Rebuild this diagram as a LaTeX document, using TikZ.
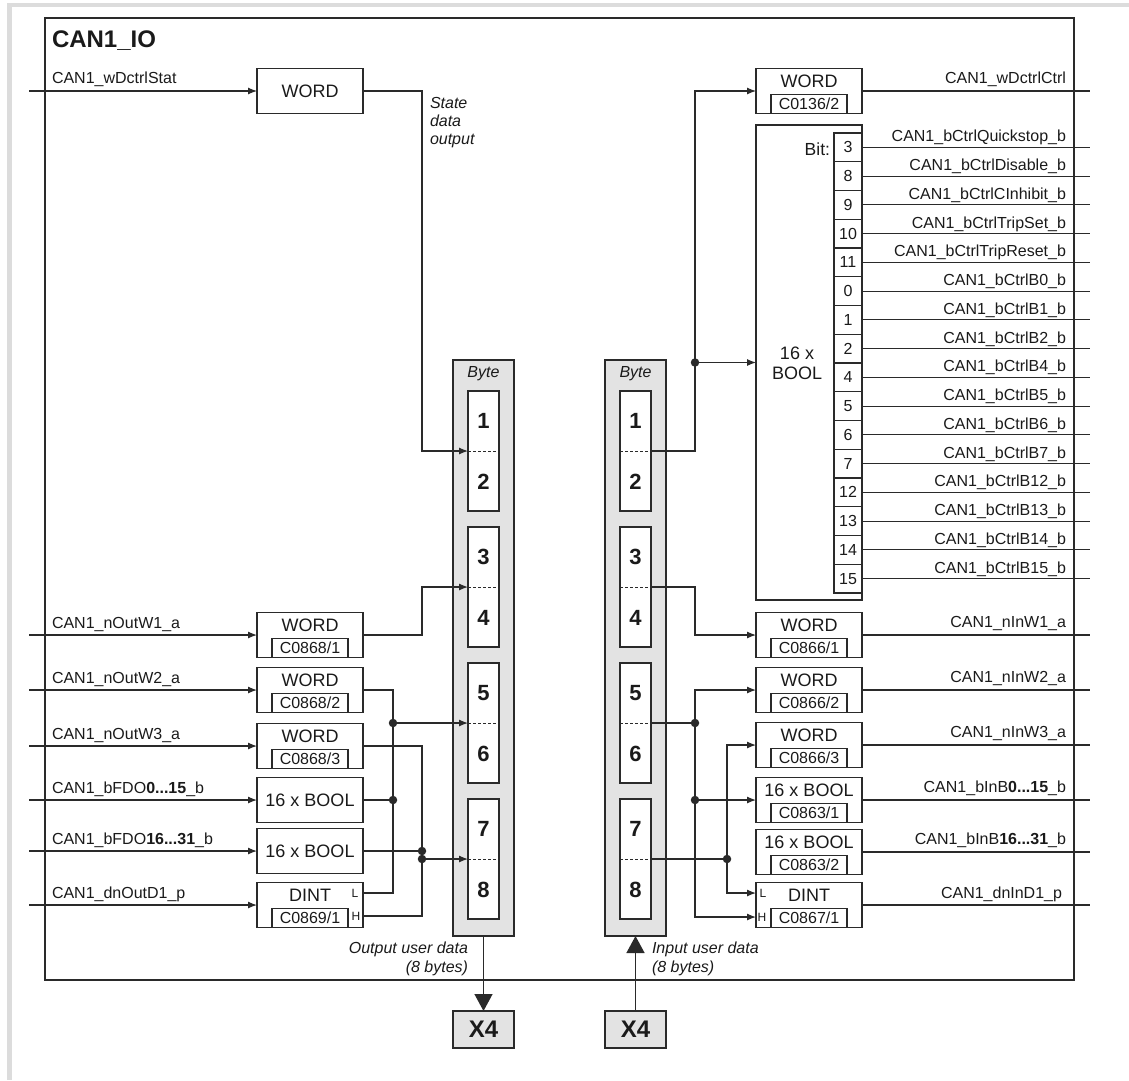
\documentclass[tikz,border=0pt]{standalone}
\usepackage{fontspec}
\setmainfont{Liberation Sans}
\usetikzlibrary{arrows.meta}
\definecolor{linec}{HTML}{2A2A2A}
\definecolor{txtc}{HTML}{1A1A1A}
\definecolor{grayfill}{HTML}{E3E3E3}
\definecolor{bandc}{HTML}{DCDCDC}
\newcommand{\myfs}[1]{\fontsize{#1}{#1}\selectfont}
\begin{document}
\begin{tikzpicture}[x=1pt,y=-1pt,
 every node/.style={inner sep=0pt,outer sep=0pt,text=txtc},
 blk/.style={draw=linec,line width=1.25pt,fill=white,minimum width=106pt,minimum height=45pt},
 codebox/.style={draw=linec,line width=1.1pt,minimum width=76pt,minimum height=19pt,anchor=south,font=\myfs{16}},
 wlbl/.style={font=\myfs{18}},
 lbl/.style={font=\myfs{16}},
 ital/.style={font=\itshape\myfs{16}},
 wire/.style={draw=linec,line width=1.15pt},
 arr/.style={wire,-{Latex[length=9pt,width=7pt]}},
 bigarr/.style={draw=linec,line width=1.4pt,-{Triangle[length=17pt,width=18pt]}},
 jdot/.style={circle,fill=linec,minimum size=8.5pt},
 bytecol/.style={draw=linec,line width=1.3pt,fill=grayfill,minimum width=61pt,minimum height=576pt,anchor=north west},
 bytegrp/.style={draw=linec,line width=1.3pt,fill=white,minimum width=31pt,minimum height=120pt,anchor=north west},
 dsep/.style={draw=linec,line width=1pt,dash pattern=on 3pt off 2pt},
 bitcell/.style={draw=linec,line width=1.4pt,fill=white,minimum width=28pt,minimum height=28.75pt,font=\myfs{16}},
 bdig/.style={font=\bfseries\myfs{22}},
 lh/.style={font=\myfs{12}},
 xfour/.style={draw=linec,line width=1.3pt,fill=grayfill,minimum width=61pt,minimum height=37pt,anchor=north west,font=\bfseries\myfs{24}},
]
\useasboundingbox (0,0) rectangle (1129,1080);
\fill[bandc] (7,3) rectangle (1129,7);
\fill[bandc] (7,3) rectangle (12,1080);

% frame and title
\node[draw=linec,line width=1.25pt,minimum width=1029pt,minimum height=962pt,anchor=north west] (frame) at (45,18) {};
\node[font=\bfseries\myfs{24},anchor=base west] (title) at (52,47) {CAN1\_IO};

% routing coordinates
\coordinate (busA) at (422,0);
\coordinate (busB) at (393,0);
\coordinate (busC) at (695,0);
\coordinate (busD) at (727,0);
\coordinate (inX) at (29,0);
\coordinate (outX) at (1090,0);

% byte columns
\node[bytecol] (colL) at (453,360) {};
\node[bytecol] (colR) at (605,360) {};
\node[ital] (byteL) at (483.5,374) {Byte};
\node[ital] (byteR) at (635.5,374) {Byte};
\foreach \k in {1,...,4}{
  \pgfmathsetmacro\gy{391+136*(\k-1)}
  \pgfmathtruncatemacro\da{2*\k-1}
  \pgfmathtruncatemacro\db{2*\k}
  \node[bytegrp] (gL\k) at (468,\gy) {};
  \node[bytegrp] (gR\k) at (620,\gy) {};
  \draw[dsep] (gL\k.west) -- (gL\k.east);
  \draw[dsep] (gR\k.west) -- (gR\k.east);
  \node[bdig] (nLa\k) at ([yshift=30pt]gL\k.center) {\da};
  \node[bdig] (nLb\k) at ([yshift=-31pt]gL\k.center) {\db};
  \node[bdig] (nRa\k) at ([yshift=30pt]gR\k.center) {\da};
  \node[bdig] (nRb\k) at ([yshift=-31pt]gR\k.center) {\db};
  \coordinate (Ld\k) at (gL\k.west);
  \coordinate (Rd\k) at (gR\k.east);
}

% X4 terminals
\node[xfour] (x4L) at (453,1011) {X4};
\node[xfour] (x4R) at (605,1011) {X4};
\draw[bigarr] (colL.south) -- (x4L.north);
\draw[bigarr] (x4R.north) -- (colR.south);
\node[ital,anchor=base east] (outT1) at (468,953) {Output user data};
\node[ital,anchor=base east] (outT2) at (468,972) {(8 bytes)};
\node[ital,anchor=base west] (inT1) at (652,953) {Input user data};
\node[ital,anchor=base west] (inT2) at (652,972) {(8 bytes)};

% ---------- left side ----------
\node[blk] (ws) at (310,91) {};
\node[wlbl] (wsT) at (ws) {WORD};
\node[lbl,anchor=base west] (wsL) at (52,83) {CAN1\_wDctrlStat};
\draw[arr] (inX |- ws.west) -- (ws.west);
\node[ital,anchor=base west] (st1) at (430,108) {State};
\node[ital,anchor=base west] (st2) at (430,126) {data};
\node[ital,anchor=base west] (st3) at (430,144) {output};

\node[blk] (w1) at (310,635) {};
\node[wlbl] (w1T) at ([yshift=-12.5pt]w1.north) {WORD};
\node[codebox] (w1c) at (w1.south) {C0868/1};
\node[lbl,anchor=base west] (w1L) at (52,628) {CAN1\_nOutW1\_a};

\node[blk] (w2) at (310,690) {};
\node[wlbl] (w2T) at ([yshift=-12.5pt]w2.north) {WORD};
\node[codebox] (w2c) at (w2.south) {C0868/2};
\node[lbl,anchor=base west] (w2L) at (52,683) {CAN1\_nOutW2\_a};

\node[blk] (w3) at (310,746) {};
\node[wlbl] (w3T) at ([yshift=-12.5pt]w3.north) {WORD};
\node[codebox] (w3c) at (w3.south) {C0868/3};
\node[lbl,anchor=base west] (w3L) at (52,739) {CAN1\_nOutW3\_a};

\node[blk] (b1) at (310,800) {};
\node[wlbl] (b1T) at (b1) {16 x BOOL};
\node[lbl,anchor=base west] (b1L) at (52,793) {CAN1\_bFDO\textbf{0...15}\_b};

\node[blk] (b2) at (310,851) {};
\node[wlbl] (b2T) at (b2) {16 x BOOL};
\node[lbl,anchor=base west] (b2L) at (52,844) {CAN1\_bFDO\textbf{16...31}\_b};

\node[blk] (dL) at (310,905) {};
\node[wlbl] (dLT) at ([yshift=-12.5pt]dL.north) {DINT};
\node[codebox] (dLc) at (dL.south) {C0869/1};
\node[lbl,anchor=base west] (dLLb) at (52,898) {CAN1\_dnOutD1\_p};
\coordinate (dLl) at ([yshift=12pt]dL.east);
\coordinate (dLh) at ([yshift=-11pt]dL.east);
\node[lh] (dLlT) at ([xshift=-8pt]dLl) {L};
\node[lh] (dLhT) at ([xshift=-7pt]dLh) {H};

\foreach \nd in {w1,w2,w3,b1,b2,dL}{
  \draw[arr] (inX |- \nd.west) -- (\nd.west);
}

% left connections
\draw[arr] (ws.east) -| (busA |- Ld1) -- (Ld1);
\draw[arr] (w1.east) -| (busA |- Ld2) -- (Ld2);
\draw[wire] (w2.east) -| (busB |- dLl) -- (dLl);
\node[jdot] (j1) at (busB |- Ld3) {};
\draw[arr] (j1) -- (Ld3);
\node[jdot] (j2) at (busB |- b1.east) {};
\draw[wire] (b1.east) -- (j2);
\draw[wire] (w3.east) -| (busA |- dLh) -- (dLh);
\node[jdot] (j3) at (busA |- b2.east) {};
\draw[wire] (b2.east) -- (j3);
\node[jdot] (j4) at (busA |- Ld4) {};
\draw[arr] (j4) -- (Ld4);

% ---------- right side ----------
\node[blk] (wc) at (809,91) {};
\node[wlbl] (wcT) at ([yshift=-12.5pt]wc.north) {WORD};
\node[codebox] (wcc) at (wc.south) {C0136/2};
\node[lbl,anchor=base east] (wcL) at (1066,83) {CAN1\_wDctrlCtrl};

\node[draw=linec,line width=1.25pt,fill=white,minimum width=106pt,minimum height=475pt,anchor=north west] (bb) at (756,125) {};
\node[font=\fontsize{18}{20}\selectfont,align=center] (bbT) at (797,363) {16 x\\BOOL};
\node[font=\myfs{17.5},anchor=base east] (bitT) at (830,155) {Bit:};
\foreach \bv/\nm [count=\ii from 0] in {3/Quickstop,8/Disable,9/CInhibit,10/TripSet,11/TripReset,0/B0,1/B1,2/B2,4/B4,5/B5,6/B6,7/B7,12/B12,13/B13,14/B14,15/B15}{
  \pgfmathsetmacro\yy{147.375+28.75*\ii}
  \node[bitcell] (bit\ii) at (848,\yy) {\bv};
  \draw[wire] (bit\ii.east) -- (outX |- bit\ii.east);
  \node[lbl,anchor=base east] (bitL\ii) at (1066,\yy-5.5) {CAN1\_bCtrl\nm\_b};
}

\node[blk] (i1) at (809,635) {};
\node[wlbl] (i1T) at ([yshift=-12.5pt]i1.north) {WORD};
\node[codebox] (i1c) at (i1.south) {C0866/1};
\node[lbl,anchor=base east] (i1L) at (1066,627) {CAN1\_nInW1\_a};

\node[blk] (i2) at (809,690) {};
\node[wlbl] (i2T) at ([yshift=-12.5pt]i2.north) {WORD};
\node[codebox] (i2c) at (i2.south) {C0866/2};
\node[lbl,anchor=base east] (i2L) at (1066,682) {CAN1\_nInW2\_a};

\node[blk] (i3) at (809,745) {};
\node[wlbl] (i3T) at ([yshift=-12.5pt]i3.north) {WORD};
\node[codebox] (i3c) at (i3.south) {C0866/3};
\node[lbl,anchor=base east] (i3L) at (1066,737) {CAN1\_nInW3\_a};

\node[blk] (i4) at (809,800) {};
\node[wlbl] (i4T) at ([yshift=-12.5pt]i4.north) {16 x BOOL};
\node[codebox] (i4c) at (i4.south) {C0863/1};
\node[lbl,anchor=base east] (i4L) at (1066,792) {CAN1\_bInB\textbf{0...15}\_b};

\node[blk] (i5) at (809,852) {};
\node[wlbl] (i5T) at ([yshift=-12.5pt]i5.north) {16 x BOOL};
\node[codebox] (i5c) at (i5.south) {C0863/2};
\node[lbl,anchor=base east] (i5L) at (1066,844) {CAN1\_bInB\textbf{16...31}\_b};

\node[blk] (dR) at (809,905) {};
\node[wlbl] (dRT) at ([yshift=-12.5pt]dR.north) {DINT};
\node[codebox] (dRc) at (dR.south) {C0867/1};
\node[lbl,anchor=base east] (dRLb) at (1062,898) {CAN1\_dnInD1\_p};
\coordinate (dRl) at ([yshift=12pt]dR.west);
\coordinate (dRh) at ([yshift=-12pt]dR.west);
\node[lh] (dRlT) at ([xshift=7pt]dRl) {L};
\node[lh] (dRhT) at ([xshift=6pt]dRh) {H};

\foreach \nd in {wc,i1,i2,i3,i4,i5,dR}{
  \draw[wire] (\nd.east) -- (outX |- \nd.east);
}

% right connections
\draw[arr] (Rd1) -| (busC |- wc.west) -- (wc.west);
\node[jdot] (j5) at (busC |- bb.west) {};
\draw[arr] (j5) -- (bb.west);
\draw[arr] (Rd2) -| (busC |- i1.west) -- (i1.west);
\node[jdot] (j6) at (busC |- Rd3) {};
\draw[wire] (Rd3) -- (j6);
\draw[arr] (j6) |- (i2.west);
\draw[arr] (j6) |- (dRh);
\node[jdot] (j7) at (busC |- i4.west) {};
\draw[arr] (j7) -- (i4.west);
\node[jdot] (j8) at (busD |- Rd4) {};
\draw[wire] (Rd4) -- (j8);
\draw[arr] (j8) |- (i3.west);
\draw[arr] (j8) |- (dRl);
\end{tikzpicture}
\end{document}
